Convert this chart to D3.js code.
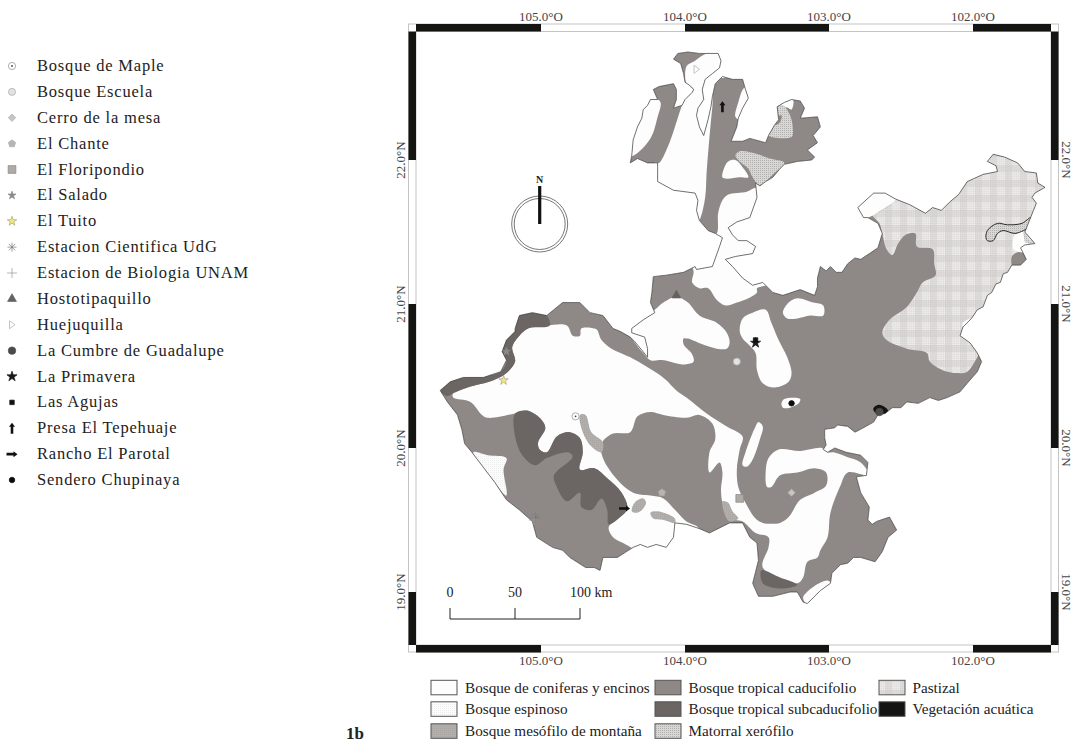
<!DOCTYPE html>
<html>
<head>
<meta charset="utf-8">
<title>Jalisco vegetation map</title>
<script src="https://d3js.org/d3.v7.min.js" charset="utf-8"></script>
<style>
	html, body { margin: 0; padding: 0; background: #fff; }
	svg { display: block; }
	text { font-family: "Liberation Serif", "Times New Roman", serif; fill: #222; }
</style>
</head>
<body>
<script>
// tick labels (degrees)
var lonTicks = [105, 104, 103, 102];
var latTicks = [22, 21, 20, 19];
var scaleKm = [0, 50, 100];

// sampling sites
var siteNames = ["Bosque de Maple", "Bosque Escuela", "Cerro de la mesa", "El Chante", "El Floripondio", "El Salado", "El Tuito", "Estacion Cientifica UdG", "Estacion de Biologia UNAM", "Hostotipaquillo", "Huejuquilla", "La Cumbre de Guadalupe", "La Primavera", "Las Agujas", "Presa El Tepehuaje", "Rancho El Parotal", "Sendero Chupinaya"];
var siteLon = [104.76, 103.64, 103.26, 104.16, 103.62, 105.24, 105.26, 105.04, 105.05, 104.06, 103.92, 102.65, 103.51, 103.51, 103.74, 104.42, 103.26];
var siteLat = [20.22, 20.60, 19.69, 19.69, 19.65, 20.67, 20.47, 19.52, 19.50, 21.06, 22.63, 20.25, 20.73, 20.75, 22.37, 19.58, 20.31];

// vegetation classes
var vegNames = ["Bosque de coniferas y encinos", "Bosque espinoso", "Bosque mesófilo de montaña", "Bosque tropical caducifolio", "Bosque tropical subcaducifolio", "Matorral xerófilo", "Pastizal", "Vegetación acuática"];

// state outline [lon W, lat N]
var stateOutline = [[104.38,21.98],[104.37,22.03],[104.36,22.14],[104.33,22.23],[104.30,22.29],[104.29,22.35],[104.26,22.38],[104.24,22.42],[104.19,22.42],[104.22,22.49],[104.18,22.51],[104.13,22.52],[104.08,22.53],[104.06,22.49],[104.06,22.42],[104.08,22.36],[104.02,22.38],[104.00,22.42],[103.95,22.47],[103.94,22.49],[103.97,22.52],[104.00,22.54],[104.01,22.60],[104.03,22.67],[104.08,22.70],[104.05,22.74],[103.98,22.75],[103.90,22.74],[103.77,22.74],[103.75,22.69],[103.76,22.64],[103.81,22.60],[103.86,22.56],[103.88,22.49],[103.87,22.42],[103.91,22.36],[103.92,22.31],[103.90,22.23],[103.87,22.17],[103.84,22.28],[103.82,22.37],[103.81,22.44],[103.79,22.53],[103.74,22.58],[103.67,22.56],[103.60,22.56],[103.58,22.49],[103.56,22.43],[103.60,22.36],[103.63,22.29],[103.64,22.23],[103.68,22.13],[103.60,22.13],[103.55,22.15],[103.44,22.12],[103.42,22.17],[103.38,22.24],[103.35,22.28],[103.36,22.37],[103.31,22.40],[103.26,22.42],[103.20,22.41],[103.17,22.36],[103.20,22.29],[103.08,22.30],[103.06,22.23],[103.11,22.17],[103.08,22.12],[103.15,22.07],[103.10,22.02],[103.12,22.00],[103.22,21.99],[103.31,21.97],[103.34,21.94],[103.39,21.88],[103.44,21.85],[103.48,21.82],[103.51,21.84],[103.50,21.74],[103.55,21.60],[103.64,21.57],[103.70,21.53],[103.67,21.48],[103.63,21.44],[103.57,21.44],[103.51,21.40],[103.53,21.35],[103.65,21.33],[103.72,21.31],[103.67,21.26],[103.60,21.18],[103.53,21.13],[103.46,21.15],[103.39,21.08],[103.32,21.06],[103.20,21.10],[103.10,21.06],[103.08,21.12],[103.08,21.18],[103.06,21.26],[103.02,21.23],[102.99,21.26],[102.95,21.22],[102.91,21.22],[102.87,21.28],[102.82,21.32],[102.78,21.31],[102.72,21.35],[102.66,21.39],[102.63,21.49],[102.66,21.56],[102.73,21.60],[102.76,21.60],[102.80,21.67],[102.69,21.77],[102.61,21.77],[102.54,21.73],[102.44,21.69],[102.33,21.63],[102.28,21.67],[102.22,21.65],[102.16,21.71],[102.10,21.76],[102.04,21.85],[101.93,21.90],[101.83,21.92],[101.84,21.96],[101.90,21.99],[101.86,22.04],[101.78,22.02],[101.69,21.98],[101.64,21.92],[101.56,21.91],[101.55,21.84],[101.50,21.81],[101.57,21.77],[101.59,21.74],[101.56,21.70],[101.58,21.65],[101.60,21.60],[101.62,21.55],[101.64,21.50],[101.57,21.42],[101.64,21.41],[101.67,21.39],[101.63,21.31],[101.67,21.27],[101.73,21.27],[101.76,21.22],[101.79,21.21],[101.81,21.15],[101.84,21.14],[101.87,21.08],[101.90,21.06],[101.93,20.98],[101.97,20.96],[102.01,20.90],[102.07,20.84],[102.09,20.78],[102.02,20.73],[101.97,20.66],[101.94,20.60],[101.97,20.53],[102.04,20.45],[102.09,20.39],[102.18,20.35],[102.24,20.33],[102.30,20.35],[102.38,20.31],[102.46,20.32],[102.50,20.28],[102.56,20.28],[102.61,20.24],[102.66,20.23],[102.69,20.18],[102.78,20.13],[102.82,20.11],[102.87,20.15],[102.94,20.16],[102.96,20.14],[103.03,20.13],[103.03,20.07],[103.02,20.02],[103.04,19.99],[103.01,19.97],[102.96,20.00],[102.88,19.97],[102.78,19.95],[102.73,19.90],[102.74,19.81],[102.81,19.80],[102.78,19.69],[102.72,19.59],[102.73,19.50],[102.70,19.47],[102.67,19.49],[102.58,19.52],[102.53,19.43],[102.59,19.38],[102.63,19.28],[102.68,19.21],[102.78,19.24],[102.83,19.24],[102.87,19.20],[102.92,19.19],[102.98,19.13],[102.99,19.06],[103.06,19.01],[103.15,18.92],[103.18,18.93],[103.22,19.00],[103.27,19.00],[103.39,18.97],[103.49,18.97],[103.53,19.06],[103.51,19.14],[103.49,19.22],[103.50,19.34],[103.55,19.38],[103.60,19.48],[103.69,19.48],[103.83,19.41],[103.90,19.44],[103.99,19.47],[104.07,19.48],[104.08,19.38],[104.13,19.31],[104.20,19.33],[104.26,19.31],[104.31,19.33],[104.36,19.31],[104.47,19.24],[104.57,19.24],[104.59,19.15],[104.63,19.17],[104.69,19.17],[104.80,19.24],[104.85,19.29],[104.92,19.31],[105.03,19.38],[105.06,19.49],[105.15,19.57],[105.24,19.64],[105.32,19.76],[105.48,19.97],[105.53,20.03],[105.55,20.13],[105.58,20.23],[105.65,20.32],[105.70,20.40],[105.63,20.46],[105.54,20.49],[105.40,20.49],[105.28,20.53],[105.24,20.61],[105.27,20.67],[105.24,20.75],[105.18,20.81],[105.18,20.83],[105.15,20.92],[105.06,20.94],[104.96,20.92],[104.85,21.01],[104.73,21.01],[104.66,20.94],[104.57,20.92],[104.50,20.83],[104.45,20.81],[104.38,20.77],[104.35,20.74],[104.30,20.68],[104.26,20.63],[104.26,20.69],[104.28,20.77],[104.37,20.80],[104.37,20.83],[104.29,20.89],[104.21,20.94],[104.24,21.01],[104.23,21.08],[104.22,21.19],[104.13,21.20],[104.01,21.22],[103.93,21.26],[103.92,21.24],[103.81,21.26],[103.76,21.40],[103.74,21.46],[103.79,21.49],[103.84,21.51],[103.90,21.58],[103.92,21.65],[103.91,21.72],[103.93,21.77],[104.08,21.79],[104.19,21.85],[104.19,21.98],[104.26,21.98],[104.33,22.01]];

// Bosque de coniferas y encinos
var coniferBlobs = [
	[[105.61,20.38],[105.51,20.42],[105.33,20.47],[105.24,20.52],[105.18,20.60],[105.20,20.70],[105.15,20.78],[105.09,20.83],[104.96,20.85],[104.82,20.85],[104.78,20.78],[104.73,20.78],[104.72,20.83],[104.63,20.83],[104.61,20.82],[104.58,20.75],[104.51,20.69],[104.38,20.63],[104.26,20.56],[104.14,20.48],[104.06,20.40],[103.99,20.35],[103.85,20.24],[103.71,20.15],[103.60,20.08],[103.62,19.99],[103.64,19.85],[103.63,19.73],[103.58,19.62],[103.51,19.51],[103.46,19.48],[103.34,19.48],[103.28,19.52],[103.20,19.64],[103.10,19.69],[103.02,19.74],[103.02,19.83],[103.10,19.86],[103.22,19.83],[103.34,19.81],[103.40,19.73],[103.43,19.73],[103.44,19.83],[103.42,19.93],[103.35,19.99],[103.20,19.98],[103.05,20.00],[103.01,19.97],[102.97,19.97],[102.88,19.94],[102.78,19.90],[102.72,19.81],[102.87,19.83],[102.92,19.74],[102.99,19.55],[103.01,19.38],[103.06,19.29],[103.08,19.24],[103.15,19.21],[103.18,19.10],[103.22,19.06],[103.46,19.17],[103.42,19.31],[103.42,19.38],[103.51,19.41],[103.60,19.49],[103.70,19.51],[103.74,19.62],[103.75,19.71],[103.74,19.83],[103.76,19.90],[103.83,19.83],[103.83,19.97],[103.79,20.06],[103.81,20.17],[103.90,20.23],[103.99,20.21],[104.15,20.23],[104.24,20.25],[104.33,20.22],[104.38,20.11],[104.50,20.10],[104.58,20.03],[104.57,19.93],[104.47,19.78],[104.36,19.69],[104.24,19.67],[104.15,19.65],[104.06,19.56],[103.99,19.49],[103.91,19.45],[103.90,19.40],[104.05,19.33],[104.09,19.22],[104.28,19.25],[104.36,19.30],[104.43,19.34],[104.50,19.38],[104.53,19.45],[104.45,19.52],[104.40,19.58],[104.44,19.69],[104.54,19.79],[104.63,19.86],[104.73,19.85],[104.71,19.97],[104.73,20.07],[104.80,20.11],[104.89,20.08],[104.96,19.97],[105.01,19.99],[105.02,20.04],[104.97,20.14],[105.01,20.21],[105.10,20.26],[105.18,20.24],[105.37,20.21],[105.41,20.23],[105.49,20.32],[105.61,20.35]],
	[[104.40,22.03],[104.36,22.03],[104.24,22.15],[104.19,22.30],[104.17,22.40],[104.21,22.43],[104.36,22.44],[104.40,22.26]],
	[[103.99,22.53],[103.99,22.65],[103.93,22.69],[103.85,22.74],[103.71,22.76],[103.71,22.58],[103.79,22.56],[103.81,22.37],[103.83,22.16],[103.85,21.91],[103.86,21.74],[103.90,21.58],[103.94,21.53],[104.24,21.67],[104.21,21.98],[104.18,21.98],[104.12,22.09],[104.07,22.23],[104.02,22.38],[104.00,22.42],[103.95,22.47],[103.94,22.49],[103.97,22.52]],
	[[103.59,22.50],[103.63,22.40],[103.65,22.30],[103.62,22.28],[103.53,22.42],[103.55,22.51]],
	[[103.74,21.88],[103.73,21.94],[103.70,21.99],[103.65,22.00],[103.60,21.95],[103.56,21.88],[103.62,21.88],[103.71,21.87]],
	[[103.33,22.38],[103.28,22.36],[103.26,22.35],[103.25,22.42],[103.32,22.42]],
	[[103.78,21.49],[103.77,21.63],[103.74,21.72],[103.70,21.76],[103.57,21.78],[103.50,21.81],[103.41,21.79],[103.41,21.15],[103.50,21.11],[103.50,21.08],[103.56,21.04],[103.64,21.01],[103.72,20.99],[103.78,21.03],[103.84,21.11],[103.90,21.11],[103.95,21.15],[103.94,21.22],[103.95,21.29],[103.86,21.44]],
	[[103.32,20.94],[103.28,21.01],[103.22,21.04],[103.11,21.01],[103.04,20.99],[103.04,20.92],[103.13,20.92],[103.22,20.90],[103.29,20.90]],
	[[103.62,20.81],[103.60,20.90],[103.53,20.94],[103.44,20.96],[103.40,20.87],[103.35,20.75],[103.29,20.63],[103.26,20.52],[103.28,20.46],[103.38,20.42],[103.46,20.45],[103.50,20.54],[103.51,20.66],[103.56,20.72],[103.60,20.76]],
	[[104.40,20.84],[104.21,20.96],[104.15,21.01],[104.06,21.05],[103.98,21.01],[103.90,20.92],[103.78,20.87],[103.71,20.80],[103.69,20.73],[103.71,20.69],[103.78,20.69],[103.88,20.72],[103.98,20.76],[104.01,20.76],[104.01,20.72],[103.95,20.65],[103.94,20.60],[104.00,20.58],[104.15,20.61],[104.24,20.61],[104.29,20.66],[104.38,20.78]],
	[[103.33,20.31],[103.31,20.34],[103.20,20.34],[103.21,20.31],[103.27,20.28],[103.32,20.28]],
	[[103.60,19.88],[103.58,19.97],[103.51,20.15],[103.49,20.18],[103.46,20.15],[103.48,20.06],[103.53,19.92],[103.57,19.87]],
	[[101.71,21.48],[101.65,21.50],[101.64,21.43],[101.57,21.41],[101.63,21.38],[101.65,21.36],[101.72,21.38]],
	[[102.80,21.67],[102.69,21.77],[102.61,21.79],[102.53,21.74],[102.67,21.63],[102.73,21.60],[102.82,21.57]],
	[[102.07,20.87],[102.00,20.90],[102.02,20.85],[102.07,20.84]],
	[[103.18,18.96],[103.01,19.08],[102.96,19.01],[103.10,18.88]]
];

// Bosque tropical subcaducifolio
var subcaducifolioBlobs = [
	[[105.18,20.24],[105.10,20.26],[105.01,20.21],[104.97,20.14],[105.02,20.04],[105.01,19.99],[104.96,19.97],[104.89,20.08],[104.80,20.11],[104.73,20.07],[104.71,19.97],[104.73,19.85],[104.63,19.86],[104.54,19.79],[104.44,19.69],[104.40,19.58],[104.45,19.52],[104.53,19.47],[104.54,19.57],[104.58,19.65],[104.65,19.57],[104.72,19.59],[104.73,19.69],[104.82,19.63],[104.89,19.73],[104.91,19.81],[104.78,19.94],[104.81,19.97],[104.96,19.93],[105.04,19.88],[105.13,19.95],[105.18,20.08]],
	[[105.70,20.40],[105.63,20.47],[105.54,20.49],[105.40,20.50],[105.28,20.53],[105.24,20.61],[105.28,20.67],[105.24,20.75],[105.18,20.82],[105.18,20.92],[105.06,20.96],[104.96,20.92],[104.94,20.85],[105.09,20.83],[105.15,20.78],[105.20,20.70],[105.18,20.60],[105.24,20.52],[105.33,20.47],[105.51,20.42],[105.61,20.38],[105.65,20.36]],
	[[103.47,19.15],[103.34,19.10],[103.22,19.05],[103.27,19.03],[103.39,19.03],[103.46,19.06]]
];

// Bosque mesofilo de montana
var mesofiloBlobs = [
	[[104.73,20.23],[104.69,20.23],[104.65,20.11],[104.57,20.04],[104.58,19.97],[104.65,20.01],[104.71,20.11]],
	[[104.37,19.56],[104.35,19.62],[104.29,19.65],[104.27,19.62],[104.31,19.56],[104.35,19.55]],
	[[104.24,19.55],[104.19,19.56],[104.07,19.51],[104.07,19.48],[104.15,19.50],[104.22,19.51]],
	[[103.74,19.63],[103.70,19.62],[103.67,19.56],[103.63,19.51],[103.69,19.49],[103.72,19.53]]
];

// Pastizal
var pastizalBlob = [[102.54,21.73],[102.67,21.63],[102.70,21.62],[102.65,21.56],[102.63,21.49],[102.60,21.38],[102.56,21.34],[102.52,21.42],[102.47,21.48],[102.40,21.49],[102.39,21.40],[102.28,21.38],[102.27,21.28],[102.26,21.20],[102.35,21.15],[102.39,21.08],[102.46,20.98],[102.58,20.89],[102.63,20.80],[102.60,20.75],[102.46,20.69],[102.32,20.66],[102.30,20.60],[102.21,20.54],[102.11,20.52],[102.04,20.53],[101.97,20.63],[101.92,20.72],[101.53,20.97],[101.40,21.93],[102.09,22.14],[102.54,21.83]];
var caducifolioPatch = [[101.73,21.33],[101.69,21.36],[101.64,21.35],[101.60,21.29],[101.72,21.25]];

// Matorral xerofilo
var xerofiloBlobs = [
	[[103.65,22.03],[103.62,22.06],[103.53,22.05],[103.41,22.01],[103.31,21.98],[103.39,21.90],[103.44,21.85],[103.48,21.82],[103.53,21.88],[103.56,21.94],[103.62,21.99]],
	[[103.36,22.37],[103.32,22.38],[103.28,22.33],[103.26,22.28],[103.25,22.19],[103.26,22.16],[103.42,22.17],[103.39,22.23],[103.34,22.26],[103.33,22.31],[103.36,22.31]],
	[[101.65,21.50],[101.59,21.42],[101.57,21.41],[101.63,21.43]]
];
var xerofiloRing = [[101.91,21.46],[101.90,21.51],[101.83,21.56],[101.76,21.55],[101.66,21.56],[101.60,21.60],[101.62,21.53],[101.65,21.51],[101.71,21.49],[101.79,21.51],[101.83,21.49],[101.86,21.44],[101.90,21.44]];

// Bosque espinoso
var espinosoBlob = [[105.47,19.97],[105.37,19.95],[105.24,19.93],[105.26,19.85],[105.24,19.67],[105.35,19.80]];

// Vegetacion acuatica
var acuaticaBlob = [[102.69,20.28],[102.65,20.30],[102.59,20.26],[102.63,20.22],[102.66,20.23],[102.69,20.26]];

var width = 1076;
var height = 742;

var svg = d3.select("body").append("svg")
	.attr("width", width)
	.attr("height", height);

var x = d3.scaleLinear().domain([105, 102]).range([541, 973]);
var y = d3.scaleLinear().domain([22, 19]).range([160, 592]);
var kmScale = d3.scaleLinear().domain([0, 100]).range([450, 580]);

var lonLeft = x.invert(416), lonRight = x.invert(1051);
var latTop = y.invert(31.5), latBottom = y.invert(645);

var edgeLine = d3.line().x(function(d){ return x(d[0]); }).y(function(d){ return y(d[1]); });
var smoothLine = d3.line().x(function(d){ return x(d[0]); }).y(function(d){ return y(d[1]); })
	.curve(d3.curveCatmullRomClosed.alpha(0.5));

// fill patterns
var defs = svg.append("defs");

var pastizal = defs.append("pattern").attr("id", "pastizal")
	.attr("width", 15).attr("height", 15).attr("patternUnits", "userSpaceOnUse");
pastizal.append("rect").attr("width", 15).attr("height", 15).attr("fill", "#eceae9");
pastizal.append("rect").attr("width", 7).attr("height", 15).attr("fill", "#d2d0ce").attr("opacity", 0.5);
pastizal.append("rect").attr("width", 15).attr("height", 7).attr("fill", "#d2d0ce").attr("opacity", 0.5);
d3.range(0, 15, 1.875).forEach(function(a){
	d3.range(0, 15, 1.875).forEach(function(b){
		pastizal.append("rect").attr("x", a).attr("y", b).attr("width", 0.9).attr("height", 0.9).attr("fill", "#c2c0be").attr("opacity", 0.55);
	});
});

var xerofilo = defs.append("pattern").attr("id", "xerofilo")
	.attr("width", 2).attr("height", 2).attr("patternUnits", "userSpaceOnUse");
xerofilo.append("rect").attr("width", 2).attr("height", 2).attr("fill", "#d8d7d6");
xerofilo.append("rect").attr("width", 1).attr("height", 1).attr("fill", "#b3b1af");

var mesofilo = defs.append("pattern").attr("id", "mesofilo")
	.attr("width", 2).attr("height", 2).attr("patternUnits", "userSpaceOnUse");
mesofilo.append("rect").attr("width", 2).attr("height", 2).attr("fill", "#b2aeab");
mesofilo.append("rect").attr("width", 1).attr("height", 1).attr("fill", "#a8a5a2");

var espinoso = defs.append("pattern").attr("id", "espinoso")
	.attr("width", 2).attr("height", 2).attr("patternUnits", "userSpaceOnUse");
espinoso.append("rect").attr("width", 2).attr("height", 2).attr("fill", "#fbfbfb");
espinoso.append("rect").attr("width", 1).attr("height", 1).attr("fill", "#eeeeee");

defs.append("clipPath").attr("id", "state")
	.append("path").attr("d", edgeLine(stateOutline) + "Z");

var vegFill = {
	conifer: "#fdfdfd", espinoso: "url(#espinoso)", mesofilo: "url(#mesofilo)",
	caducifolio: "#8e8986", subcaducifolio: "#6b6663", xerofilo: "url(#xerofilo)",
	pastizal: "url(#pastizal)", acuatica: "#141412"
};
var vegKeys = ["conifer", "espinoso", "mesofilo", "caducifolio", "subcaducifolio", "xerofilo", "pastizal", "acuatica"];

// map layers, painted over a caducifolio base
var map = svg.append("g").attr("clip-path", "url(#state)");

map.append("path").attr("d", edgeLine(stateOutline) + "Z").attr("fill", vegFill.caducifolio);

function paint(blobs, fill) {
	map.append("g").selectAll("path")
		.data(blobs)
		.enter()
		.append("path")
		.attr("d", smoothLine)
		.attr("fill", fill);
}

paint([pastizalBlob], vegFill.pastizal);
paint([caducifolioPatch], vegFill.caducifolio);
paint(coniferBlobs, vegFill.conifer);
paint(subcaducifolioBlobs, vegFill.subcaducifolio);
paint(mesofiloBlobs, vegFill.mesofilo);
paint(xerofiloBlobs, vegFill.xerofilo);
paint([espinosoBlob], vegFill.espinoso);
paint([acuaticaBlob], vegFill.acuatica);

map.append("path").attr("d", smoothLine(xerofiloRing))
	.attr("fill", vegFill.xerofilo).attr("stroke", "#2a2a2a").attr("stroke-width", 1);

svg.append("path").attr("d", edgeLine(stateOutline) + "Z")
	.attr("fill", "none").attr("stroke", "#3a3a3a").attr("stroke-width", 0.7);

// frame
var frame = svg.append("g");

frame.append("rect").attr("x", 408.5).attr("y", 24).attr("width", 650).attr("height", 628)
	.attr("fill", "none").attr("stroke", "#c4c4c4").attr("stroke-width", 1);
frame.append("rect").attr("x", 416).attr("y", 31.5).attr("width", 635).attr("height", 613.5)
	.attr("fill", "none").attr("stroke", "#c4c4c4").attr("stroke-width", 1);

var lonBands = [[lonLeft, 105], [104, 103], [102, lonRight]];
var latBands = [[latTop, 22], [21, 20], [19, latBottom]];

[24, 645].forEach(function(top){
	frame.append("g").selectAll("rect").data(lonBands).enter().append("rect")
		.attr("x", function(d){ return x(d[0]); })
		.attr("y", top)
		.attr("width", function(d){ return x(d[1]) - x(d[0]); })
		.attr("height", 7.5)
		.attr("fill", "#141412");
});
[408.5, 1051].forEach(function(left){
	frame.append("g").selectAll("rect").data(latBands).enter().append("rect")
		.attr("x", left)
		.attr("y", function(d){ return y(d[0]); })
		.attr("width", 7.5)
		.attr("height", function(d){ return y(d[1]) - y(d[0]); })
		.attr("fill", "#141412");
});

// graticule labels
function lonLabel(d){ return d.toFixed(1) + "°O"; }
function latLabel(d){ return d.toFixed(1) + "°N"; }

[20.5, 665].forEach(function(base){
	frame.append("g").selectAll("text").data(lonTicks).enter().append("text")
		.attr("x", function(d){ return x(d); })
		.attr("y", base)
		.attr("text-anchor", "middle")
		.attr("font-size", 13)
		.style("fill", "#444")
		.text(lonLabel);
});
frame.append("g").selectAll("text").data(latTicks).enter().append("text")
	.attr("transform", function(d){ return "translate(405," + y(d) + ") rotate(-90)"; })
	.attr("text-anchor", "middle")
	.attr("font-size", 13)
	.style("fill", "#444")
	.text(latLabel);
frame.append("g").selectAll("text").data(latTicks).enter().append("text")
	.attr("transform", function(d){ return "translate(1062,"  + y(d) + ") rotate(90)"; })
	.attr("text-anchor", "middle")
	.attr("font-size", 13)
	.style("fill", "#444")
	.text(latLabel);

// north arrow
var north = svg.append("g").attr("transform", "translate(539.7,224)");
north.append("circle").attr("r", 28).attr("fill", "none").attr("stroke", "#777").attr("stroke-width", 1);
north.append("circle").attr("r", 25.5).attr("fill", "none").attr("stroke", "#777").attr("stroke-width", 1);
north.append("rect").attr("x", -1.6).attr("y", -38).attr("width", 3.2).attr("height", 38).attr("fill", "#111");
north.append("text").attr("y", -41).attr("text-anchor", "middle").attr("font-size", 10)
	.attr("font-weight", "bold").text("N");

// scale bar
var bar = svg.append("g");
bar.append("line").attr("x1", kmScale(0)).attr("x2", kmScale(100)).attr("y1", 619).attr("y2", 619)
	.attr("stroke", "#222").attr("stroke-width", 1);
bar.selectAll("line.tick").data(scaleKm).enter().append("line").attr("class", "tick")
	.attr("x1", kmScale).attr("x2", kmScale).attr("y1", 608).attr("y2", 619)
	.attr("stroke", "#222").attr("stroke-width", 1);
bar.selectAll("text").data(scaleKm).enter().append("text")
	.attr("x", function(d){ return d === 100 ? kmScale(d) - 10 : kmScale(d); })
	.attr("y", 597)
	.attr("text-anchor", function(d){ return d === 100 ? "start" : "middle"; })
	.attr("font-size", 14)
	.text(function(d){ return d === 100 ? "100 km" : d; });

// site markers
var shapeStyles = [
	{ kind: "maple", size: 44, fill: "#fff", stroke: "#999" },
	{ kind: d3.symbolCircle, size: 40, fill: "#e2e2e2", stroke: "#aaa" },
	{ kind: d3.symbolDiamond2, size: 34, fill: "#c8c6c4", stroke: "#aaa" },
	{ kind: "pentagon", size: 40, fill: "#b8b4b2", stroke: "#a5a2a0" },
	{ kind: d3.symbolSquare, size: 60, fill: "#aeaaa7", stroke: "#8a8785" },
	{ kind: d3.symbolStar, size: 20, fill: "#8e8986", stroke: "#8e8986" },
	{ kind: d3.symbolStar, size: 28, fill: "#f3e97a", stroke: "#a8a58e" },
	{ kind: "asterisk", size: 40, fill: "none", stroke: "#777" },
	{ kind: d3.symbolCross, size: 0, fill: "none", stroke: "#999" },
	{ kind: d3.symbolTriangle, size: 34, fill: "#66615e", stroke: "#66615e" },
	{ kind: "rightOpen", size: 30, fill: "#fff", stroke: "#b5b5b5" },
	{ kind: d3.symbolCircle, size: 44, fill: "#4d4a48", stroke: "#4d4a48" },
	{ kind: d3.symbolStar, size: 32, fill: "#1a1a1a", stroke: "#1a1a1a" },
	{ kind: d3.symbolSquare, size: 20, fill: "#111", stroke: "#111" },
	{ kind: "arrowUp", size: 0, fill: "#111", stroke: "#111" },
	{ kind: "arrowRight", size: 0, fill: "#111", stroke: "#111" },
	{ kind: d3.symbolCircle, size: 24, fill: "#0c0c0c", stroke: "#0c0c0c" }
];

function marker(g, style) {
	if (style.kind === "maple") {
		g.append("circle").attr("r", 3.6).attr("fill", style.fill).attr("stroke", style.stroke).attr("stroke-width", 0.8);
		g.append("circle").attr("r", 0.9).attr("fill", "#444");
	} else if (style.kind === "pentagon") {
		g.append("path").attr("d", "M0,-3.8L3.7,-1.1L2.3,3.2L-2.3,3.2L-3.7,-1.1Z")
			.attr("fill", style.fill).attr("stroke", style.stroke).attr("stroke-width", 0.5);
	} else if (style.kind === "asterisk") {
		g.append("path").attr("d", "M-4.5,0L4.5,0M0,-4.5L0,4.5M-3.2,-3.2L3.2,3.2M-3.2,3.2L3.2,-3.2")
			.attr("fill", "none").attr("stroke", style.stroke).attr("stroke-width", 0.7);
	} else if (style.kind === d3.symbolCross) {
		g.append("path").attr("d", "M-5,0L5,0M0,-5L0,5")
			.attr("fill", "none").attr("stroke", style.stroke).attr("stroke-width", 0.7);
	} else if (style.kind === "rightOpen") {
		g.append("path").attr("d", "M-2.5,-4L3,0L-2.5,4Z")
			.attr("fill", style.fill).attr("stroke", style.stroke).attr("stroke-width", 0.8);
	} else if (style.kind === "arrowUp") {
		g.append("path").attr("d", "M0,-5.5L3,-1.5L1.3,-1.5L1.3,5.5L-1.3,5.5L-1.3,-1.5L-3,-1.5Z").attr("fill", style.fill);
	} else if (style.kind === "arrowRight") {
		g.append("path").attr("d", "M5.5,0L1.5,3L1.5,1.3L-5.5,1.3L-5.5,-1.3L1.5,-1.3L1.5,-3Z").attr("fill", style.fill);
	} else {
		g.append("path").attr("d", d3.symbol().type(style.kind).size(style.size)())
			.attr("fill", style.fill).attr("stroke", style.stroke).attr("stroke-width", 0.7);
	}
}

siteNames.forEach(function(name, i){
	var g = svg.append("g").attr("transform", "translate(" + x(siteLon[i]) + "," + y(siteLat[i]) + ")");
	marker(g, shapeStyles[i]);
});

// site legend
var rowScale = d3.scalePoint().domain(siteNames).range([66, 480]);
siteNames.forEach(function(name, i){
	var g = svg.append("g").attr("transform", "translate(12," + rowScale(name) + ")");
	marker(g, shapeStyles[i]);
	svg.append("text").attr("x", 37).attr("y", rowScale(name) + 5)
		.attr("font-size", 16.5).attr("letter-spacing", 0.8).text(name);
});

// vegetation legend
var legendCols = [431, 655, 879];
var legendLabelX = [465, 688.5, 912.5];
var legendRows = [687.5, 709, 731];
vegNames.forEach(function(name, i){
	var col = Math.floor(i / 3), row = i % 3;
	svg.append("rect").attr("x", legendCols[col]).attr("y", legendRows[row] - 7.2)
		.attr("width", 26).attr("height", 14.5)
		.attr("fill", vegFill[vegKeys[i]]).attr("stroke", "#555").attr("stroke-width", 1);
	svg.append("text").attr("x", legendLabelX[col]).attr("y", legendRows[row] + 5.3)
		.attr("font-size", 15.2).text(name);
});

svg.append("text").attr("x", 346).attr("y", 739).attr("font-size", 17).attr("font-weight", "bold").text("1b");
</script>
</body>
</html>
